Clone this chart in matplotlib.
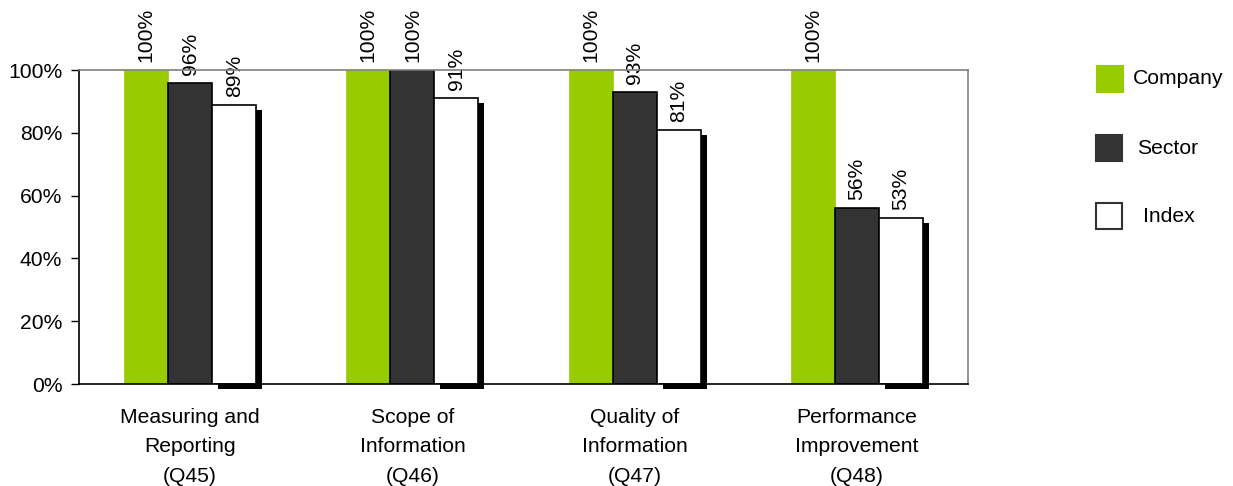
import matplotlib
matplotlib.use("Agg")
import matplotlib.pyplot as plt
from matplotlib.patches import Rectangle
from matplotlib.transforms import ScaledTranslation
import numpy as np

plt.rcParams['font.family'] = ['Liberation Sans', 'DejaVu Sans']

categories = ["Measuring and\nReporting\n(Q45)", "Scope of\nInformation\n(Q46)",
              "Quality of\nInformation\n(Q47)", "Performance\nImprovement\n(Q48)"]
company = [100, 100, 100, 100]
sector = [96, 100, 93, 56]
index = [89, 91, 81, 53]
yticks = [0, 20, 40, 60, 80, 100]

FS = 15.2

fig = plt.figure(figsize=(12.33, 4.86), dpi=100)
ax = fig.add_axes([79 / 1233, 102 / 486, (968 - 79) / 1233, 314 / 486])

x = np.arange(len(categories))
w = 0.198
green = '#99CC00'
dark = '#333333'

ax.bar(x - w, company, w, color=green, edgecolor=green, linewidth=0.5, zorder=3)
ax.bar(x, sector, w, color=dark, edgecolor='black', linewidth=1.2, zorder=3)
# shadow for index bars
shadow_off = ScaledTranslation(6 / 100, -5 / 100, fig.dpi_scale_trans)
sh = ax.bar(x + w, index, w, color='black', edgecolor='black', linewidth=0, zorder=2)
for p in sh:
    p.set_transform(ax.transData + shadow_off)
    p.set_clip_on(False)
ax.bar(x + w, index, w, color='white', edgecolor='black', linewidth=1.2, zorder=3)

lab_off = ScaledTranslation(0, 8 / 100, fig.dpi_scale_trans)
for xs, vals in ((x - w, company), (x, sector), (x + w, index)):
    for xi, v in zip(xs, vals):
        ax.text(xi, v, f"{v}%", rotation=90, ha='center', va='bottom',
                fontsize=FS, transform=ax.transData + lab_off, clip_on=False)

ax.set_xlim(-0.5, 3.5)
ax.set_ylim(0, 100)
ax.set_yticks(yticks)
ax.set_yticklabels([f"{t}%" for t in yticks], fontsize=FS)
ax.tick_params(axis='y', direction='out', length=6, width=1, color='black', pad=6)
ax.set_xticks(x)
ax.set_xticklabels(categories, fontsize=FS, linespacing=1.72)
ax.tick_params(axis='x', length=0, pad=17)

for s in ('top', 'right'):
    ax.spines[s].set_color('#808080')
for s in ('left', 'bottom'):
    ax.spines[s].set_color('black')
for s in ax.spines.values():
    s.set_linewidth(1.2)
    s.set_zorder(4)

# legend
leg = [("Company", green, green, 1097, 79), ("Sector", dark, dark, 1096, 148),
       ("Index", 'white', '#333333', 1096, 216)]
for name, fc, ec, lx, ly in leg:
    fig.add_artist(Rectangle((lx / 1233, (486 - ly - 13) / 486), 26 / 1233, 26 / 486,
                             facecolor=fc, edgecolor=ec, linewidth=1.5,
                             transform=fig.transFigure))
tx = {"Company": 1133, "Sector": 1137, "Index": 1143}
for name, fc, ec, lx, ly in leg:
    fig.text(tx[name] / 1233, (486 - ly) / 486, name, fontsize=FS, va='center', ha='left')

fig.savefig("out.png", dpi=100, facecolor='white')
